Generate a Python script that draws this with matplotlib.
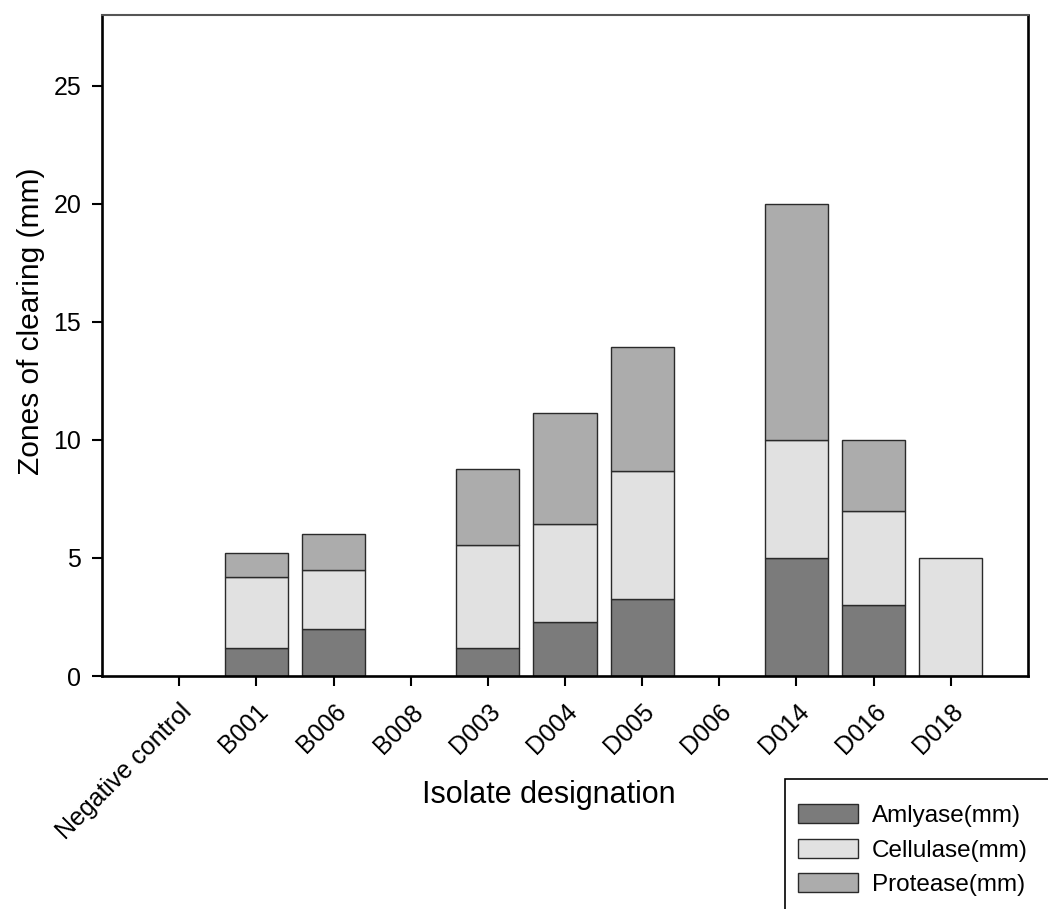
import matplotlib
matplotlib.use("Agg")
import matplotlib.pyplot as plt
from matplotlib.patches import Rectangle, Patch
import numpy as np

plt.rcParams['font.family'] = ['Liberation Sans', 'DejaVu Sans']

isolates = ["Negative control", "B001", "B006", "B008", "D003", "D004",
            "D005", "D006", "D014", "D016", "D018"]
amylase = [0, 1.2, 2.0, 0, 1.2, 2.3, 3.25, 0, 5.0, 3.0, 0]
cellulase = [0, 3.0, 2.5, 0, 4.35, 4.15, 5.45, 0, 5.0, 4.0, 5.0]
protease = [0, 1.0, 1.5, 0, 3.2, 4.7, 5.25, 0, 10.0, 3.0, 0]
series_labels = ["Amlyase(mm)", "Cellulase(mm)", "Protease(mm)"]
colors = ["#7b7b7b", "#e1e1e1", "#acacac"]
edge = "#2a2a2a"

fig = plt.figure(figsize=(10.48, 9.09), dpi=100)
ax = fig.add_axes([102 / 1048, 1 - 676 / 909, (1028 - 102) / 1048, (676 - 15) / 909])

x = np.arange(len(isolates))
width = 0.82
bottom = np.zeros(len(isolates))
for vals, col, lab in zip([amylase, cellulase, protease], colors, series_labels):
    vals = np.array(vals, dtype=float)
    bars = ax.bar(x, vals, width, bottom=bottom, color=col, edgecolor=edge,
                  linewidth=1.0, label=lab)
    # empty segments get no outline
    for b, v in zip(bars, vals):
        if v == 0:
            b.set_visible(False)
    bottom += vals

ax.set_xlim(-1, len(isolates))
ax.set_ylim(0, 28)
ax.set_yticks([0, 5, 10, 15, 20, 25])
ax.set_xticks(x)
ax.set_xticklabels(isolates, rotation=45, ha="right", va="top",
                   rotation_mode="anchor")
ax.tick_params(axis="both", direction="out", length=7, width=1.5, labelsize=18,
               colors="black")
ax.tick_params(axis="x", pad=10)
ax.tick_params(axis="y", pad=8)

for side in ["left", "bottom", "right"]:
    ax.spines[side].set_linewidth(1.9)
    ax.spines[side].set_color("black")
ax.spines["top"].set_linewidth(1.5)
ax.spines["top"].set_color("#555555")

ax.set_ylabel("Zones of clearing (mm)", fontsize=21.5)
ax.yaxis.set_label_coords(-0.062, 0.537)
ax.set_xlabel("Isolate designation", fontsize=22)
ax.xaxis.set_label_coords(0.483, -0.158)

# legend box in the lower right corner
fig.patches.append(Rectangle((785 / 1048, -0.05), 0.3, 0.05 + 130 / 909,
                             transform=fig.transFigure, facecolor="white",
                             edgecolor="black", linewidth=1.2, zorder=1))
legend_handles = [Patch(facecolor=c, edgecolor=edge, linewidth=1.0) for c in colors]
leg = fig.legend(handles=legend_handles, labels=series_labels, loc="upper left",
                 bbox_to_anchor=(781 / 1048, 1 - 787 / 909),
                 bbox_transform=fig.transFigure, frameon=False, fontsize=17.5,
                 handlelength=2.45, handleheight=0.85, labelspacing=0.47,
                 handletextpad=0.58, borderpad=0.2)

fig.savefig("out.png", dpi=100)
